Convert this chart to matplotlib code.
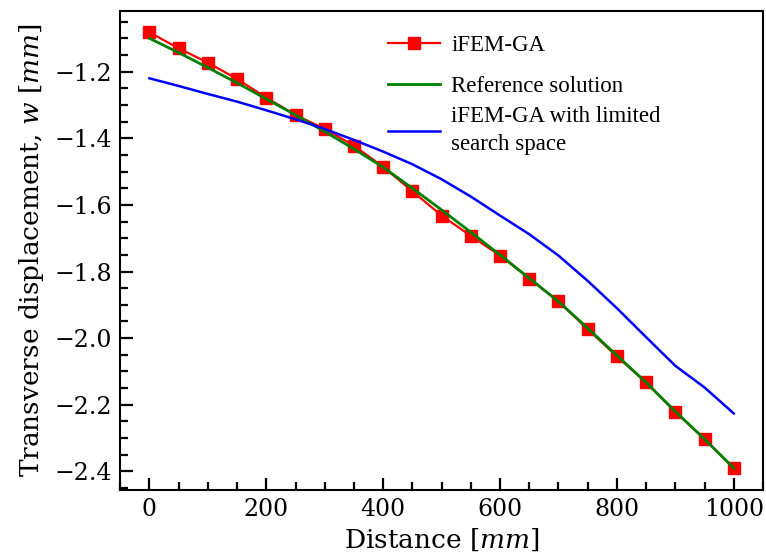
import numpy as np
import matplotlib
matplotlib.use("Agg")
from matplotlib import pyplot as plt
from matplotlib.ticker import MultipleLocator

plt.rcParams["font.family"] = "DejaVu Serif"
plt.rcParams["mathtext.fontset"] = "dejavuserif"

# distance along the plate [mm]
distance = [0, 50, 100, 150, 200, 250, 300, 350, 400, 450, 500,
            550, 600, 650, 700, 750, 800, 850, 900, 950, 1000]

# transverse displacement w [mm]
w_ifem_ga = [-1.082, -1.130, -1.173, -1.222, -1.278, -1.330, -1.372,
             -1.422, -1.486, -1.559, -1.632, -1.693, -1.752, -1.821,
             -1.890, -1.973, -2.055, -2.133, -2.221, -2.303, -2.390]
w_reference = [-1.100, -1.143, -1.188, -1.234, -1.282, -1.330, -1.380,
               -1.432, -1.487, -1.550, -1.615, -1.682, -1.750, -1.820,
               -1.890, -1.970, -2.052, -2.133, -2.220, -2.303, -2.390]
w_limited = [-1.220, -1.243, -1.267, -1.290, -1.316, -1.343, -1.372,
             -1.405, -1.440, -1.478, -1.523, -1.575, -1.632, -1.688,
             -1.752, -1.828, -1.910, -1.997, -2.083, -2.148, -2.226]

fig = plt.figure(figsize=(7.66, 5.56), dpi=100)
ax = fig.add_axes([0.157, 0.119, 0.839, 0.862])

l1, = ax.plot(distance, w_ifem_ga, color="red", lw=1.6, marker="s", ms=8.5,
              label="iFEM-GA")
l2, = ax.plot(distance, w_reference, color="green", lw=2.0,
              label="Reference solution")
l3, = ax.plot(distance, w_limited, color="blue", lw=1.8,
              label="iFEM-GA with limited\nsearch space")

ax.set_xlabel("Distance [$mm$]", fontsize=19, labelpad=4)
ax.set_ylabel("Transverse displacement, $w$ [$mm$]", fontsize=19, labelpad=6)

ax.xaxis.set_major_locator(MultipleLocator(200))
ax.xaxis.set_minor_locator(MultipleLocator(50))
ax.yaxis.set_major_locator(MultipleLocator(0.2))
ax.yaxis.set_minor_locator(MultipleLocator(0.05))
ax.tick_params(which="both", direction="in", top=False, right=False,
               labelsize=17, width=1.6)
ax.tick_params(which="major", length=9, pad=6)
ax.tick_params(which="minor", length=5.5)
for sp in ax.spines.values():
    sp.set_linewidth(1.5)

# two legends so the two-line entry can sit closer to the others
leg_kw = dict(loc="upper left", borderaxespad=0, frameon=False,
              prop={"family": "Liberation Serif", "size": 16.5},
              handlelength=2.27, handletextpad=0.48, labelspacing=0.85)
leg1 = ax.legend(handles=[l1, l2], bbox_to_anchor=(0.403, 0.968), **leg_kw)
ax.add_artist(leg1)
leg2 = ax.legend(handles=[l3], bbox_to_anchor=(0.403, 0.8195), **leg_kw)
for t in leg2.get_texts():
    t.set_linespacing(1.45)

fig.savefig("out.png", dpi=100)
